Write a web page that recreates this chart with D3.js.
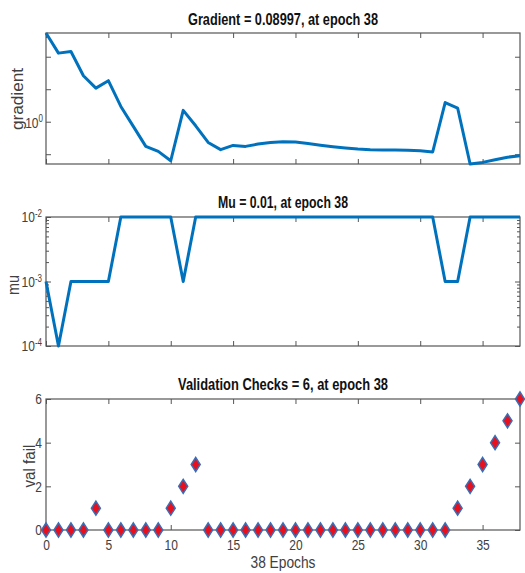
<!DOCTYPE html>
<html>
<head>
<meta charset="utf-8">
<script src="https://cdn.jsdelivr.net/npm/d3@7"></script>
<style>
  body { margin: 0; background: #fff; }
  svg { display: block; font-family: Arial, "Liberation Sans", sans-serif; }
</style>
</head>
<body>
<svg id="chart" width="525" height="573"></svg>
<script>
// values
const epochs = d3.range(0, 39);
const gradient = [537, 129, 145, 26, 10.8, 18.3, 2.95, 0.72, 0.174, 0.122, 0.063, 2.23, 0.75, 0.23, 0.138,
  0.187, 0.174, 0.206, 0.23, 0.243, 0.237, 0.214, 0.19, 0.17, 0.155, 0.144, 0.138, 0.135, 0.135, 0.133,
  0.128, 0.117, 3.9, 2.64, 0.05, 0.056, 0.068, 0.081, 0.08997];
const mu = [1e-3, 1e-4, 1e-3, 1e-3, 1e-3, 1e-3, 1e-2, 1e-2, 1e-2, 1e-2, 1e-2, 1e-3, 1e-2, 1e-2, 1e-2,
  1e-2, 1e-2, 1e-2, 1e-2, 1e-2, 1e-2, 1e-2, 1e-2, 1e-2, 1e-2, 1e-2, 1e-2, 1e-2, 1e-2, 1e-2,
  1e-2, 1e-2, 1e-3, 1e-3, 1e-2, 1e-2, 1e-2, 1e-2, 1e-2];
const valFail = [0, 0, 0, 0, 1, 0, 0, 0, 0, 0, 1, 2, 3, 0, 0, 0, 0, 0, 0, 0, 0, 0, 0, 0, 0, 0, 0, 0,
  0, 0, 0, 0, 0, 1, 2, 3, 4, 5, 6];
const xTicks = [0, 5, 10, 15, 20, 25, 30, 35];
const gradTicks = [0.1, 1, 10, 100];
const muTicks = [1e-4, 1e-3, 1e-2];
const valTicks = [0, 2, 4, 6];

const titles = ["Gradient = 0.08997, at epoch 38", "Mu = 0.01, at epoch 38", "Validation Checks = 6, at epoch 38"];

const lineColor = "#0072bd";
const axisColor = "#555";
const textColor = "#404040";
const narrow = 0.8; // the reference type is condensed

const svg = d3.select("#chart");
const left = 46, right = 520;

const x = d3.scaleLinear().domain([0, 38]).range([left, right]);

function squeeze(sel) {
  sel.each(function() {
    const t = d3.select(this);
    const tx = +t.attr("x") || 0;
    // keep the anchor point where it was, shrink glyphs horizontally
    t.attr("x", tx / narrow).attr("transform", `scale(${narrow},1)`);
  });
}

function panel(top, bottom, y, opts) {
  const g = svg.append("g");
  // inward ticks on all four sides
  g.append("g").attr("transform", `translate(0,${bottom})`)
    .call(d3.axisBottom(x).tickValues(xTicks).tickSize(-5).tickPadding(9)
      .tickFormat(opts.xLabels ? d3.format("d") : ""));
  g.append("g").attr("transform", `translate(0,${top})`)
    .call(d3.axisTop(x).tickValues(xTicks).tickSize(-5).tickFormat(""));
  g.append("g").attr("transform", `translate(${left},0)`)
    .call(d3.axisLeft(y).tickValues(opts.yTicks).tickSize(-5).tickPadding(4).tickFormat(opts.fmt));
  g.append("g").attr("transform", `translate(${right},0)`)
    .call(d3.axisRight(y).tickValues(opts.yTicks).tickSize(-5).tickFormat(""));
  if (opts.minor) {
    g.append("g").attr("transform", `translate(${left},0)`)
      .call(d3.axisLeft(y).tickValues(opts.minor).tickSize(-3).tickFormat(""));
    g.append("g").attr("transform", `translate(${right},0)`)
      .call(d3.axisRight(y).tickValues(opts.minor).tickSize(-3).tickFormat(""));
  }
  g.selectAll("path.domain").remove();
  g.selectAll(".tick line").attr("stroke", axisColor);
  g.selectAll(".tick text").attr("fill", textColor).style("font-size", "15px")
    .style("font-family", "Arial, 'Liberation Sans', sans-serif");
  g.append("rect").attr("x", left).attr("y", top).attr("width", right - left).attr("height", bottom - top)
    .attr("fill", "none").attr("stroke", axisColor).attr("stroke-width", 1.2);
  return g;
}

function powLabel(sel, exps) {
  sel.each(function(d) {
    const t = d3.select(this).text("");
    t.append("tspan").text("10");
    t.append("tspan").attr("dy", "-0.5em").style("font-size", "10px").text(exps(d));
  });
}

function title(yPos, text, len) {
  svg.append("text").attr("x", (left + right) / 2).attr("y", yPos).attr("text-anchor", "middle")
    .attr("textLength", len).attr("lengthAdjust", "spacingAndGlyphs")
    .style("font-size", "16px").style("font-weight", "bold").attr("fill", "#111").text(text);
}

function yLabel(xPos, yPos, text, len) {
  svg.append("text").attr("transform", `translate(${xPos},${yPos}) rotate(-90)`)
    .attr("text-anchor", "middle").attr("textLength", len).attr("lengthAdjust", "spacingAndGlyphs")
    .style("font-size", "16px").attr("fill", textColor).text(text);
}

// --- gradient panel
const yGrad = d3.scaleLog().domain([d3.min(gradient), d3.max(gradient)]).range([164, 33]);
const pg = panel(33, 164, yGrad, { yTicks: gradTicks, fmt: "" });
pg.append("text").attr("x", left - 3).attr("y", yGrad(1) + 6).attr("text-anchor", "end")
  .attr("fill", textColor).style("font-size", "15px").text("10")
  .append("tspan").attr("dy", "-0.55em").style("font-size", "10px").text("0");
squeeze(pg.selectAll("text"));
pg.append("path").datum(gradient)
  .attr("fill", "none").attr("stroke", lineColor).attr("stroke-width", 3).attr("stroke-linejoin", "round")
  .attr("d", d3.line().x((d, i) => x(epochs[i])).y(d => yGrad(d)));
title(25, titles[0], 190);
yLabel(23, 99, "gradient", 62);

// --- mu panel
const yMu = d3.scaleLog().domain([1e-4, 1e-2]).range([346, 217]);
const muMinor = [];
[1e-4, 1e-3].forEach(b => { for (let k = 2; k <= 9; k++) muMinor.push(b * k); });
const pm = panel(217, 346, yMu, { yTicks: muTicks, fmt: d => d, minor: muMinor });
pm.selectAll(".tick text").filter(function() { return this.textContent !== ""; })
  .call(powLabel, d => String(Math.round(Math.log10(d))));
squeeze(pm.selectAll(".tick text"));
pm.append("path").datum(mu)
  .attr("fill", "none").attr("stroke", lineColor).attr("stroke-width", 3).attr("stroke-linejoin", "round")
  .attr("d", d3.line().x((d, i) => x(epochs[i])).y(d => yMu(d)));
title(208, titles[1], 130);
yLabel(19, 285, "mu", 20);

// --- validation checks panel
const yVal = d3.scaleLinear().domain([0, 6]).range([530, 399]);
const pv = panel(399, 530, yVal, { yTicks: valTicks, fmt: d3.format("d"), xLabels: true });
squeeze(pv.selectAll(".tick text"));
const diamond = "M0,-7L4.5,0L0,7L-4.5,0Z";
pv.selectAll("path.pt").data(valFail).join("path").attr("class", "pt")
  .attr("transform", (d, i) => `translate(${x(epochs[i])},${yVal(d)})`)
  .attr("d", diamond).attr("fill", "#e8101c").attr("stroke", "#3a6db5").attr("stroke-width", 1.5);
title(390, titles[2], 210);
yLabel(35, 466, "val fail", 43);
svg.append("text").attr("x", (left + right) / 2).attr("y", 568).attr("text-anchor", "middle")
  .attr("textLength", 65).attr("lengthAdjust", "spacingAndGlyphs")
  .attr("fill", textColor).style("font-size", "16px").text("38 Epochs");
</script>
</body>
</html>
